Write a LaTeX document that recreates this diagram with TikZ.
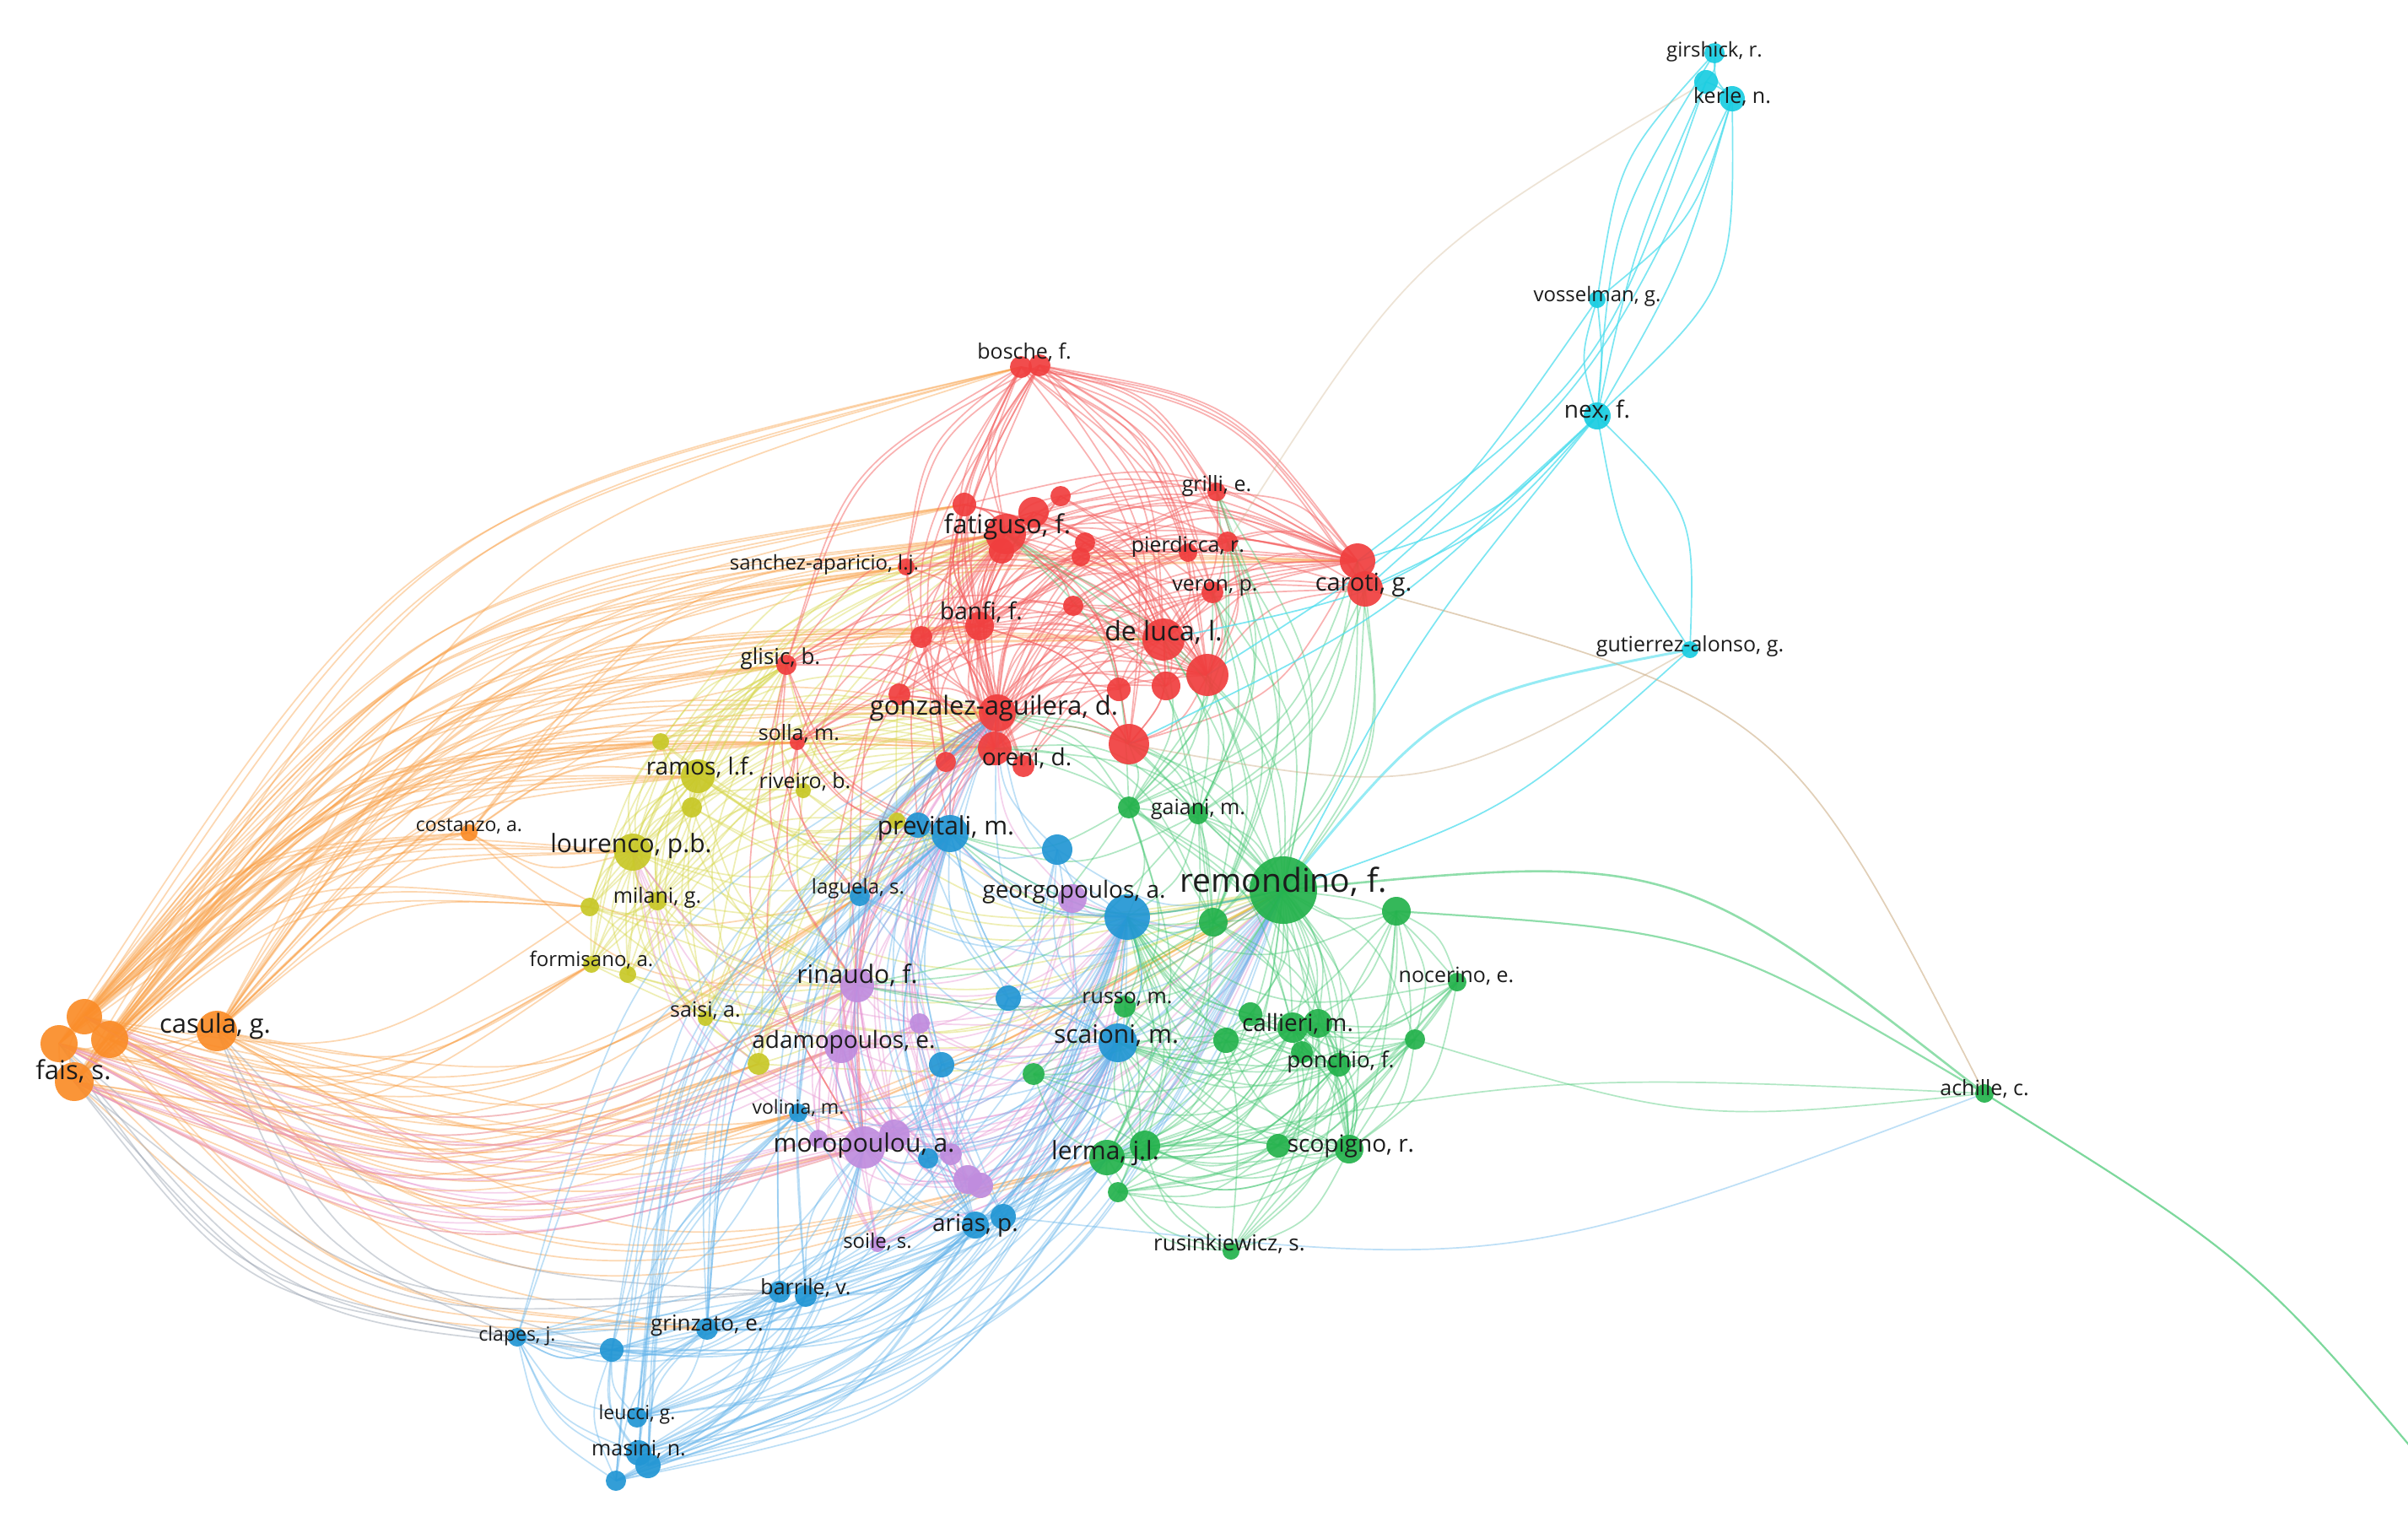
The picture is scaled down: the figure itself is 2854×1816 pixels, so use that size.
\documentclass[tikz,border=0pt]{standalone}
\usepackage{fontspec}
\setmainfont{Open Sans}
\usetikzlibrary{calc}
\pgfdeclarelayer{edges}
\pgfdeclarelayer{labels}
\pgfsetlayers{edges,main,labels}
\definecolor{cR}{RGB}{240,62,62}
\definecolor{cG}{RGB}{36,178,76}
\definecolor{cB}{RGB}{34,150,212}
\definecolor{cY}{RGB}{200,200,40}
\definecolor{cP}{RGB}{192,140,222}
\definecolor{cO}{RGB}{250,140,40}
\definecolor{cC}{RGB}{25,205,225}
\definecolor{eRc}{RGB}{245,100,100}
\definecolor{eGc}{RGB}{70,200,115}
\definecolor{eBc}{RGB}{100,180,235}
\definecolor{eYc}{RGB}{215,215,75}
\definecolor{ePc}{RGB}{232,150,212}
\definecolor{eOc}{RGB}{250,160,70}
\definecolor{eCc}{RGB}{80,222,238}
\definecolor{eTc}{RGB}{205,175,135}
\definecolor{eXc}{RGB}{150,160,175}
\definecolor{txt}{RGB}{28,28,28}
\def\cxx{1250pt}
\def\cyy{-950pt}
\tikzset{
  nd/.style={circle, inner sep=0pt, draw=none, fill opacity=0.92},
  lb/.style={font=\fontsize{#1}{#1}\selectfont, text=txt, anchor=mid, inner sep=0pt},
  ed/.style={line width=1.7pt, draw opacity=0.42},
  eR/.style={ed, draw=eRc, draw opacity=0.5},
  eG/.style={ed, draw=eGc},
  eB/.style={ed, draw=eBc},
  eY/.style={ed, draw=eYc},
  eP/.style={ed, draw=ePc},
  eO/.style={ed, draw=eOc},
  eX/.style={ed, draw=eXc, draw opacity=0.45},
  eC/.style={ed, draw=eCc, draw opacity=0.75},
  eT/.style={ed, draw=eTc, draw opacity=0.6},
  arc/.style={to path={let \p1=(\tikztostart), \p2=(\tikztotarget),
      \n1={(\x2-\x1)/100}, \n2={(\y2-\y1)/100},
      \n3={\n1*(\cyy-(\y1))/100-\n2*(\cxx-(\x1))/100},
      \n4={ifthenelse(\n3>0,-1,1)*(#1)},
      \n5={(\x1+\x2)/2-\n4*\n2*100},
      \n6={(\y1+\y2)/2+\n4*\n1*100}
      in .. controls (\n5,\n6) .. (\tikztotarget)}},
  arc/.default=0.2,
  arcF/.style={to path={let \p1=(\tikztostart), \p2=(\tikztotarget),
      \n1={(\x2-\x1)/100}, \n2={(\y2-\y1)/100},
      \n5={(\x1+\x2)/2-(#1)*\n2*100},
      \n6={(\y1+\y2)/2+(#1)*\n1*100}
      in .. controls (\n5,\n6) .. (\tikztotarget)}},
}
\newcommand\Eset[3]{\foreach \a in {#2}{\foreach \b in {#3}{\draw[#1] (\a.center) to[arc] (\b.center);}}}
\begin{document}
\begin{tikzpicture}[x=1pt,y=-1pt]
\useasboundingbox (0,0) rectangle (2854,1816);
\begin{pgfonlayer}{edges}
\fill[white] (0,0) rectangle (2854,1816);
\end{pgfonlayer}
% ---------------- nodes ----------------
\foreach \nm/\px/\py/\rr in {r1/1210/435/13, r2/1232/433/13, r3/1143/598/14, r4/1225/607/18, r5/1257/588/12, r6/1192/633/24, r7/1187/653/15, r8/1286/643/12, r9/1281/660/11, r10/1442/583/11, r11/1408/655/11, r12/1455/642/12, r13/1437/702/13, r14/1609/665/21, r15/1618/698/21, r16/1074/672/10, r17/1161/742/17, r18/1092/755/13, r19/1272/718/12, r20/1379/758/25, r21/1431/800/25, r22/1326/817/14, r23/1382/813/17, r24/932/788/12, r25/1066/823/13, r26/1182/845/22, r27/1338/882/24, r28/1179/887/20, r29/1213/908/13, r30/1121/903/12, r31/945/880/9}
  {\node[nd, fill=cR, minimum size={2*\rr*1pt}] (\nm) at (\px,\py) {};}
\foreach \nm/\px/\py/\rr in {y1/827/920/20, y2/820/957/12, y3/952/937/9, y4/1063/973/10, y5/750/1010/22, y6/699/1075/11, y7/779/1068/11, y8/701/1143/10, y9/744/1155/10, y10/836/1207/9, y11/899/1261/13, y12/783/879/10}
  {\node[nd, fill=cY, minimum size={2*\rr*1pt}] (\nm) at (\px,\py) {};}
\foreach \nm/\px/\py/\rr in {o1/100/1205/21, o2/70/1237/22, o3/130/1232/22, o4/88/1282/23, o5/257/1222/24, o6/556/987/10}
  {\node[nd, fill=cO, minimum size={2*\rr*1pt}] (\nm) at (\px,\py) {};}
\foreach \nm/\px/\py/\rr in {b1/1088/978/15, b2/1126/988/22, b3/1253/1007/18, b4/1019/1062/12, b5/1336/1087/27, b6/1195/1183/15, b7/1116/1262/15, b8/1325/1236/23, b9/946/1319/11, b10/1100/1373/12, b11/1156/1452/16, b12/1189/1442/15, b13/924/1531/13, b14/955/1536/13, b15/838/1575/13, b16/613/1585/11, b17/725/1600/14, b18/755/1680/12, b19/757/1722/15, b20/768/1737/15, b21/730/1755/12}
  {\node[nd, fill=cB, minimum size={2*\rr*1pt}] (\nm) at (\px,\py) {};}
\foreach \nm/\px/\py/\rr in {p1/1271/1065/17, p2/1016/1168/20, p3/1090/1213/12, p4/997/1240/20, p5/1024/1360/25, p6/970/1350/11, p7/1060/1345/18, p8/1127/1368/13, p9/1147/1398/17, p10/1162/1405/15, p11/1040/1475/9}
  {\node[nd, fill=cP, minimum size={2*\rr*1pt}] (\nm) at (\px,\py) {};}
\foreach \nm/\px/\py/\rr in {g1/1338/957/13, g2/1420/965/12, g3/1521/1055/40, g4/1438/1093/17, g5/1655/1080/17, g6/1333/1193/13, g7/1727/1164/11, g8/1482/1202/14, g9/1532/1218/18, g10/1562/1213/17, g11/1453/1233/15, g12/1543/1247/13, g13/1587/1262/14, g14/1677/1232/12, g15/1225/1273/13, g16/1312/1372/21, g17/1357/1358/18, g18/1325/1413/12, g19/1515/1358/14, g20/1599/1362/17, g21/1459/1483/10, g22/2352/1296/11}
  {\node[nd, fill=cG, minimum size={2*\rr*1pt}] (\nm) at (\px,\py) {};}
\foreach \nm/\px/\py/\rr in {c1/2032/63/12, c2/2022/97/14, c3/2053/117/15, c4/1893/355/10, c5/1893/493/16, c6/2003/770/10}
  {\node[nd, fill=cC, minimum size={2*\rr*1pt}] (\nm) at (\px,\py) {};}
\coordinate (offR) at (2920,1790);
% ---------------- edges ----------------
\begin{pgfonlayer}{edges}
% orange
\Eset{eO}{o1,o2,o3,o4,o5}{r1,r3,r6,r16,r17,r24,r26,r28,r31,r14,r20,y1,y5,y6,y8,y11,y12,o6,p2,p4,p5,b4,b9,b15,g3,g16}
\Eset{eX}{o2,o4,o5}{b16,b17,b13}
\Eset{eO}{o6}{y1,y5,r6,r16,r24,r26,b4,p2}
\Eset{eO}{o1,o2}{o3,o4,o5}
% yellow
\Eset{eY}{y1,y2,y3,y4,y5,y6,y7,y8,y9,y10,y11,y12}{y1,y5,y7,r26,r6,b2,p2,r28,r24,g3}
% red
\Eset{eR}{r1,r2,r3,r4,r5,r7,r8,r9,r10,r11,r12,r13,r15,r16,r18,r19,r22,r23,r24,r25,r27,r29,r30,r31}{r6,r20,r26,r17,r14,r21,r28}
\Eset{eR}{r6,r20,r26,r17}{r14,r21,r28,r27,r4,r3}
\Eset{eR}{r1,r2}{r10,r11,r12,r13,r15,r16,r24,r27,r29,r30}
\Eset{eR}{r26,r28,r6,r24,r31}{b2,b1,b4,p2,p5}
% purple
\Eset{eP}{p1,p2,p3,p4,p5,p6,p7,p8,p9,p10,p11}{p2,p4,p5,p7,p9,b5,b2,b8,r26,g3}
\Eset{eP}{p2,p3,p4,p5,p6,p7}{o1,o2,o4,y5}
% blue
\Eset{eB}{b1,b2,b3,b4,b5,b6,b7,b8,b9,b10,b11,b12,b13,b14,b15,b16,b17,b18,b19,b20,b21}{b2,b5,b8,b11,b15,p5,g3,r26}
\Eset{eB}{b16,b17,b18,b19,b20,b21}{b13,b14,b9,b16,b17,g16}
% green
\Eset{eG}{g1,g2,g4,g5,g6,g7,g8,g9,g10,g11,g12,g13,g14,g15,g16,g17,g18,g19,g20,g21}{g3,g9,g16,g20,g13,b5,b8}
\Eset{eG}{g21,g19,g7,g14}{g10,g18,g5,g17}
\Eset{eG}{g3,g1,g2,g4}{r6,r14,r15,r20,r21,r26,r27,r28,r10,r13,r12,b2,p2}
% cyan
\draw[eC] (c1.center) to[arcF=0.2] (c2.center);
\draw[eC] (c1.center) to[arcF=-0.2] (c3.center);
\draw[eC] (c2.center) to[arcF=0.1] (c3.center);
\draw[eC] (c4.center) to[arcF=0.15] (c1.center);
\draw[eC] (c4.center) to[arcF=-0.15] (c3.center);
\draw[eC] (c5.center) to[arcF=0.12] (c1.center);
\draw[eC] (c5.center) to[arcF=0.05] (c2.center);
\draw[eC] (c5.center) to[arcF=-0.22] (c3.center);
\draw[eC] (c5.center) to[arcF=-0.06] (c3.center);
\draw[eC] (c5.center) to[arcF=0.15] (c4.center);
\draw[eC] (c5.center) to[arcF=-0.05] (c4.center);
\draw[eC] (c6.center) to[arcF=-0.22] (c5.center);
\draw[eC] (c6.center) to[arcF=0.1] (c5.center);
\draw[eC] (c5.center) to[arcF=0.12] (r14.center);
\draw[eC] (c5.center) to[arcF=0.1] (r15.center);
\draw[eC] (c5.center) to[arcF=0.14] (r20.center);
\draw[eC] (c5.center) to[arcF=0.08] (r27.center);
\draw[eC] (c5.center) to[arcF=-0.05] (g3.center);
\draw[eC] (c2.center) to[arcF=0.15] (r14.center);
\draw[eC] (c3.center) to[arcF=0.1] (r15.center);
\draw[eC] (c4.center) to[arcF=0.1] (r21.center);
\draw[eC, line width=3pt, draw opacity=0.6] (g3.center) to[arcF=0.18] (c6.center);
\draw[eC] (g3.center) to[arcF=-0.1] (c6.center);
\draw[eT, draw opacity=0.35] (c2.center) to[arcF=-0.12] (r12.center);
\draw[eT, draw opacity=0.45] (r27.center) to[arcF=-0.18] (c6.center);
% long links to the right
\draw[eT] (r15.center) to[arcF=0.22] (g22.center);
\draw[eG, line width=2.6pt, draw opacity=0.6] (g3.center) to[arcF=0.2] (g22.center);
\draw[eG, line width=2.2pt, draw opacity=0.6] (g5.center) to[arcF=0.12] (g22.center);
\draw[eG, line width=2.2pt, draw opacity=0.7] (g22.center) to[arcF=0.08] (offR);
\draw[eG] (g16.center) to[arcF=0.06] (g22.center);
\draw[eG] (g14.center) to[arcF=-0.1] (g22.center);
\draw[eB] (b12.center) to[arcF=-0.12] (g22.center);
\end{pgfonlayer}
% ---------------- labels ----------------
\begin{pgfonlayer}{labels}
\node[lb=24] (Lgirshick) at (2032,65) {girshick, r.};
\node[lb=25] (Lkerle) at (2053,120) {kerle, n.};
\node[lb=24] (Lvosselman) at (1893,355) {vosselman, g.};
\node[lb=28] (Lnex) at (1893,493) {nex, f.};
\node[lb=25] (Lgutierrez) at (2003,770) {gutierrez-alonso, g.};
\node[lb=25] (Lbosche) at (1214,423) {bosche, f.};
\node[lb=31] (Lfatiguso) at (1194,630) {fatiguso, f.};
\node[lb=25] (Lgrilli) at (1442,580) {grilli, e.};
\node[lb=25] (Lpierdicca) at (1408,652) {pierdicca, r.};
\node[lb=25] (Lveron) at (1440,698) {veron, p.};
\node[lb=29] (Lcaroti) at (1616,698) {caroti, g.};
\node[lb=24] (Lsanchez) at (977,673) {sanchez-aparicio, l.j.};
\node[lb=28] (Lbanfi) at (1163,732) {banfi, f.};
\node[lb=32] (Ldeluca) at (1379,757) {de luca, l.};
\node[lb=26] (Lglisic) at (925,785) {glisic, b.};
\node[lb=31] (Lgonzalez) at (1178,845) {gonzalez-aguilera, d.};
\node[lb=25] (Lsolla) at (947,875) {solla, m.};
\node[lb=28] (Loreni) at (1217,905) {oreni, d.};
\node[lb=28] (Lramos) at (830,916) {ramos, l.f.};
\node[lb=25] (Lriveiro) at (954,932) {riveiro, b.};
\node[lb=30] (Lprevitali) at (1121,987) {previtali, m.};
\node[lb=25] (Lgaiani) at (1420,963) {gaiani, m.};
\node[lb=24] (Llaguela) at (1017,1057) {laguela, s.};
\node[lb=28] (Lgeorgopoulos) at (1273,1062) {georgopoulos, a.};
\node[lb=39] (Lremondino) at (1521,1055) {remondino, f.};
\node[lb=23] (Lcostanzo) at (556,983) {costanzo, a.};
\node[lb=30] (Llourenco) at (748,1008) {lourenco, p.b.};
\node[lb=25] (Lmilani) at (779,1068) {milani, g.};
\node[lb=24] (Lformisano) at (701,1143) {formisano, a.};
\node[lb=25] (Lsaisi) at (836,1203) {saisi, a.};
\node[lb=30] (Lrinaudo) at (1016,1163) {rinaudo, f.};
\node[lb=31] (Lcasula) at (255,1222) {casula, g.};
\node[lb=31] (Lfais) at (87,1277) {fais, s.};
\node[lb=25] (Lrusso) at (1336,1187) {russo, m.};
\node[lb=25] (Lnocerino) at (1726,1162) {nocerino, e.};
\node[lb=28] (Lcallieri) at (1538,1220) {callieri, m.};
\node[lb=30] (Lscaioni) at (1323,1234) {scaioni, m.};
\node[lb=28] (Ladamopoulos) at (1000,1240) {adamopoulos, e.};
\node[lb=26] (Lponchio) at (1589,1263) {ponchio, f.};
\node[lb=23] (Lvolinia) at (946,1318) {volinia, m.};
\node[lb=30] (Lmoropoulou) at (1024,1363) {moropoulou, a.};
\node[lb=30] (Llerma) at (1310,1372) {lerma, j.l.};
\node[lb=28] (Lscopigno) at (1601,1363) {scopigno, r.};
\node[lb=28] (Larias) at (1156,1457) {arias, p.};
\node[lb=24] (Lsoile) at (1040,1477) {soile, s.};
\node[lb=26] (Lrusink) at (1457,1480) {rusinkiewicz, s.};
\node[lb=25] (Lbarrile) at (955,1532) {barrile, v.};
\node[lb=26] (Lgrinzato) at (838,1575) {grinzato, e.};
\node[lb=23] (Lclapes) at (613,1587) {clapes, j.};
\node[lb=23] (Lleucci) at (755,1680) {leucci, g.};
\node[lb=25] (Lmasini) at (757,1723) {masini, n.};
\node[lb=25] (Lachille) at (2352,1296) {achille, c.};
\end{pgfonlayer}
\end{tikzpicture}
\end{document}
